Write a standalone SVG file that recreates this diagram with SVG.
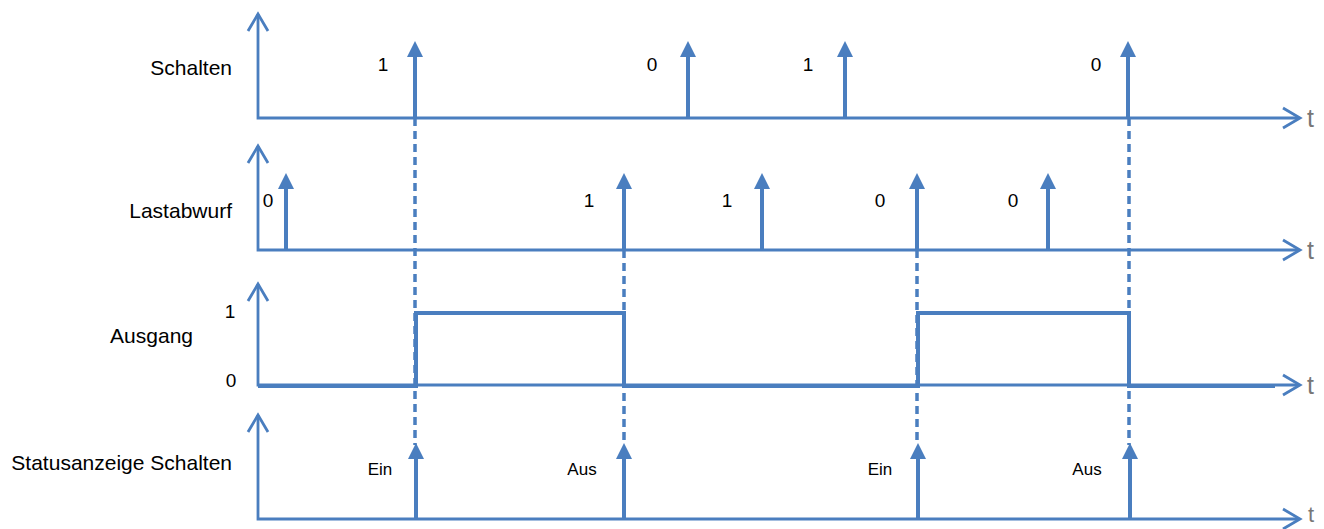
<svg xmlns="http://www.w3.org/2000/svg" width="1324" height="529" viewBox="0 0 1324 529">
<defs>
<style>
.ax{fill:none;stroke:#4a7ebf;stroke-width:2.8;stroke-linecap:butt;stroke-linejoin:miter}
.sp{fill:none;stroke:#4a7ebf;stroke-width:4}
.hd{fill:#4a7ebf;stroke:none}
.sig{fill:none;stroke:#4a7ebf;stroke-width:4;stroke-linejoin:miter}
.dash{fill:none;stroke:#4a7ebf;stroke-width:3.5;stroke-dasharray:8 5}
.lbl{font-family:"Liberation Sans",Arial,sans-serif;font-size:21px;fill:#000;text-anchor:end}
.num{font-family:"Liberation Sans",Arial,sans-serif;font-size:19px;fill:#000;text-anchor:middle}
.st{font-family:"Liberation Sans",Arial,sans-serif;font-size:17px;fill:#000;text-anchor:middle}
.t{font-family:"Liberation Sans",Arial,sans-serif;font-size:25px;fill:#777;font-weight:300}
</style>
</defs>
<rect width="1324" height="529" fill="#fff"/>

<g id="connectors">
<line class="dash" x1="415" y1="118" x2="415" y2="445"/>
<line class="dash" x1="624" y1="250" x2="624" y2="445"/>
<line class="dash" x1="917" y1="250" x2="917" y2="445"/>
<line class="dash" x1="1129" y1="118" x2="1129" y2="445"/>
</g>

<g id="row-schalten">
<text class="lbl" x="232" y="75">Schalten</text>
<path class="ax" d="M258,14 V118 H1298"/>
<path class="ax" d="M248,31 L258,14 L268,31"/>
<path class="ax" d="M1283,108 L1300,118 L1283,128"/>
<text class="t" x="1307" y="127">t</text>
<line class="sp" x1="415" y1="54" x2="415" y2="118"/><path class="hd" d="M415,41 L423,57 L407,57 Z"/>
<line class="sp" x1="688" y1="54" x2="688" y2="118"/><path class="hd" d="M688,41 L696,57 L680,57 Z"/>
<line class="sp" x1="845" y1="54" x2="845" y2="118"/><path class="hd" d="M845,41 L853,57 L837,57 Z"/>
<line class="sp" x1="1128" y1="54" x2="1128" y2="118"/><path class="hd" d="M1128,41 L1136,57 L1120,57 Z"/>
<text class="num" x="383" y="71">1</text>
<text class="num" x="652" y="71">0</text>
<text class="num" x="808" y="71">1</text>
<text class="num" x="1096" y="71">0</text>
</g>

<g id="row-lastabwurf">
<text class="lbl" x="232" y="218">Lastabwurf</text>
<path class="ax" d="M258,146 V250 H1298"/>
<path class="ax" d="M248,163 L258,146 L268,163"/>
<path class="ax" d="M1283,240 L1300,250 L1283,260"/>
<text class="t" x="1307" y="259">t</text>
<line class="sp" x1="286" y1="186" x2="286" y2="250"/><path class="hd" d="M286,173 L294,189 L278,189 Z"/>
<line class="sp" x1="624" y1="186" x2="624" y2="250"/><path class="hd" d="M624,173 L632,189 L616,189 Z"/>
<line class="sp" x1="762" y1="186" x2="762" y2="250"/><path class="hd" d="M762,173 L770,189 L754,189 Z"/>
<line class="sp" x1="917" y1="186" x2="917" y2="250"/><path class="hd" d="M917,173 L925,189 L909,189 Z"/>
<line class="sp" x1="1048" y1="186" x2="1048" y2="250"/><path class="hd" d="M1048,173 L1056,189 L1040,189 Z"/>
<text class="num" x="268" y="207">0</text>
<text class="num" x="589" y="207">1</text>
<text class="num" x="727" y="207">1</text>
<text class="num" x="880" y="207">0</text>
<text class="num" x="1013" y="207">0</text>
</g>

<g id="row-ausgang">
<text class="lbl" x="193" y="343">Ausgang</text>
<text class="num" x="230" y="318">1</text>
<text class="num" x="231" y="387">0</text>
<path class="ax" d="M258,284 V385 H1298"/>
<path class="ax" d="M248,301 L258,284 L268,301"/>
<path class="ax" d="M1283,375 L1300,385 L1283,395"/>
<text class="t" x="1307" y="394">t</text>
<path class="sig" d="M258,386 H416 V313 H624 V386 H918 V313 H1129 V386 H1275"/>
</g>

<g id="row-status">
<text class="lbl" x="232" y="470">Statusanzeige Schalten</text>
<path class="ax" d="M258,415 V519 H1298"/>
<path class="ax" d="M248,432 L258,415 L268,432"/>
<path class="ax" d="M1283,509 L1300,519 L1283,529"/>
<text class="t" x="1308" y="522" style="font-size:22px">t</text>
<line class="sp" x1="416" y1="456" x2="416" y2="519"/><path class="hd" d="M416,443 L424,459 L408,459 Z"/>
<line class="sp" x1="624" y1="456" x2="624" y2="519"/><path class="hd" d="M624,443 L632,459 L616,459 Z"/>
<line class="sp" x1="918" y1="456" x2="918" y2="519"/><path class="hd" d="M918,443 L926,459 L910,459 Z"/>
<line class="sp" x1="1130" y1="456" x2="1130" y2="519"/><path class="hd" d="M1130,443 L1138,459 L1122,459 Z"/>
<text class="st" x="380" y="475">Ein</text>
<text class="st" x="582" y="475">Aus</text>
<text class="st" x="880" y="475">Ein</text>
<text class="st" x="1087" y="475">Aus</text>
</g>
</svg>
